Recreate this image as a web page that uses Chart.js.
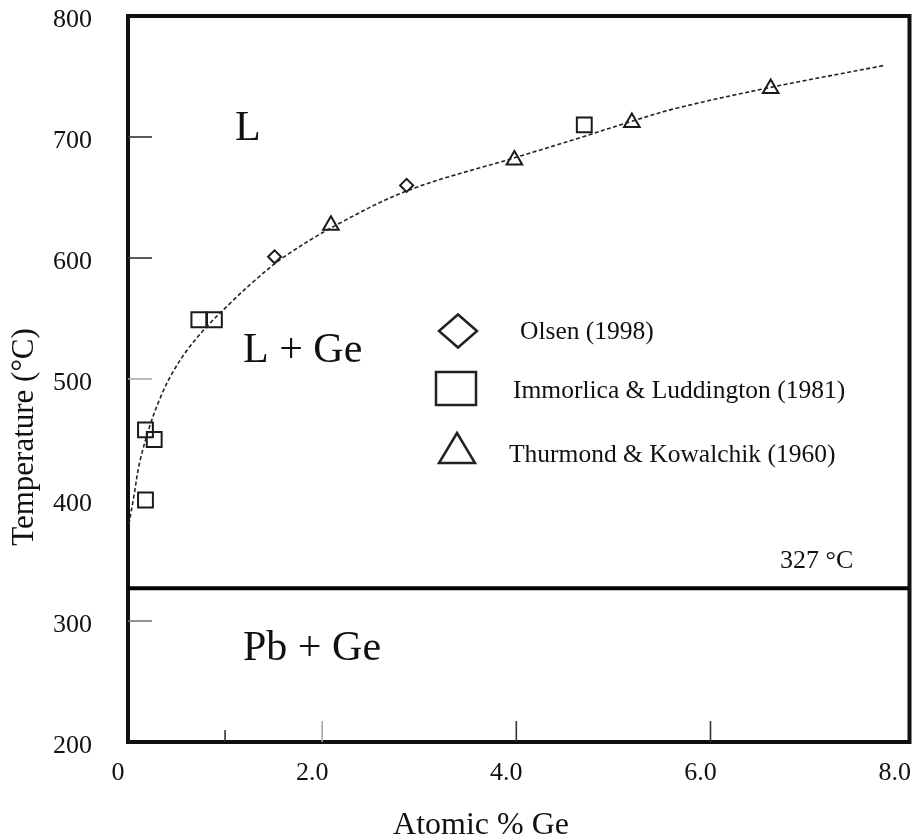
<!DOCTYPE html>
<html>
<head>
<meta charset="utf-8">
<script src="https://cdn.jsdelivr.net/npm/chart.js@4.4.1/dist/chart.umd.min.js"></script>
<style>
  html, body { margin: 0; padding: 0; background: #fff; }
  canvas { display: block; }
</style>
</head>
<body>
<canvas id="c" width="922" height="836"></canvas>
<script>
// Pb-rich side of the Pb–Ge phase diagram: liquidus curve and measured points
const curveGe   = [0.01, 0.06, 0.12, 0.22, 0.33, 0.45, 0.61, 0.82, 1.07, 1.30, 1.59, 2.14, 2.89, 3.99, 4.64, 5.19, 5.66, 6.62, 7.78];
const curveTemp = [380, 403, 431, 460, 484, 504, 524, 544, 564, 581, 600, 627, 656, 683, 699, 713, 724, 741, 759];

const olsenGe   = [1.51, 2.87];
const olsenTemp = [601, 660];

const immorlicaGe   = [0.18, 0.18, 0.27, 0.73, 0.89, 4.70];
const immorlicaTemp = [400, 458, 450, 549, 549, 710];

const thurmondGe   = [2.09, 3.98, 5.19, 6.62];
const thurmondTemp = [627, 681, 712, 740];

const eutecticTemp = 327;

const xTickValues = [0, 2, 4, 6, 8];
const xTickLabels = ['0', '2.0', '4.0', '6.0', '8.0'];
const yTickValues = [200, 300, 400, 500, 600, 700, 800];
const xMarkValues = [1, 2, 4, 6];
const yMarkValues = [300, 500, 600, 700];

const seriesNames  = ['Olsen (1998)', 'Immorlica & Luddington (1981)', 'Thurmond & Kowalchik (1960)'];
const regionLabels = ['L', 'L + Ge', 'Pb + Ge'];
const eutecticLabel = '327 °C';
const xTitle = 'Atomic % Ge';
const yTitle = 'Temperature (°C)';

const SERIF = '"Liberation Serif", "Times New Roman", Times, serif';
const INK = '#111';

const toPoints = (xs, ys) => xs.map((v, i) => ({ x: v, y: ys[i] }));

// Frame, inward ticks, phase-field labels, legend and axis titles
const decor = {
  id: 'decor',
  afterDatasetsDraw(chart) {
    const { ctx, chartArea: a, scales: { x, y } } = chart;
    ctx.save();

    // top and right edges of the frame
    ctx.strokeStyle = INK;
    ctx.lineWidth = 4;
    ctx.beginPath();
    ctx.moveTo(a.left - 2, a.top);
    ctx.lineTo(a.right, a.top);
    ctx.lineTo(a.right, a.bottom + 2);
    ctx.stroke();

    // short tick marks pointing into the plot
    ctx.lineWidth = 1.6;
    yMarkValues.forEach(v => {
      const py = y.getPixelForValue(v);
      ctx.strokeStyle = v === 500 ? '#aaa' : (v === 300 ? '#777' : '#333');
      ctx.beginPath();
      ctx.moveTo(a.left, py);
      ctx.lineTo(a.left + 24, py);
      ctx.stroke();
    });
    xMarkValues.forEach(v => {
      const px = x.getPixelForValue(v);
      ctx.strokeStyle = v === 2 ? '#aaa' : '#333';
      const len = v === 1 ? 12 : 21;
      ctx.beginPath();
      ctx.moveTo(px, a.bottom);
      ctx.lineTo(px, a.bottom - len);
      ctx.stroke();
    });

    ctx.fillStyle = INK;
    ctx.textBaseline = 'alphabetic';
    ctx.textAlign = 'left';

    // phase-field labels
    ctx.font = `42px ${SERIF}`;
    ctx.fillText(regionLabels[0], 235, 140);
    ctx.fillText(regionLabels[1], 243, 362);
    ctx.fillText(regionLabels[2], 243, 660);

    ctx.font = `26px ${SERIF}`;
    ctx.fillText(eutecticLabel, 780, 568);

    // legend
    ctx.strokeStyle = '#222';
    ctx.lineWidth = 2.5;
    ctx.lineJoin = 'miter';
    ctx.beginPath();
    ctx.moveTo(439, 331); ctx.lineTo(458, 314.5); ctx.lineTo(477, 331); ctx.lineTo(458, 347.5);
    ctx.closePath();
    ctx.stroke();

    ctx.strokeRect(436, 372, 40, 33);

    ctx.beginPath();
    ctx.moveTo(457, 433); ctx.lineTo(475, 463); ctx.lineTo(439, 463);
    ctx.closePath();
    ctx.stroke();

    ctx.font = `25.5px ${SERIF}`;
    ctx.fillText(seriesNames[0], 520, 339);
    ctx.fillText(seriesNames[1], 513, 398);
    ctx.fillText(seriesNames[2], 509, 462);

    // axis titles
    ctx.font = `32px ${SERIF}`;
    ctx.textAlign = 'center';
    ctx.fillText(xTitle, 481, 834);

    ctx.save();
    ctx.translate(33, 437);
    ctx.rotate(-Math.PI / 2);
    ctx.font = `31px ${SERIF}`;
    ctx.fillText(yTitle, 0, 0);
    ctx.restore();

    ctx.restore();
  }
};

const markerStyle = {
  type: 'scatter',
  showLine: false,
  borderColor: '#1a1a1a',
  backgroundColor: 'rgba(0,0,0,0)',
  pointBorderWidth: 2,
  pointHoverRadius: 0
};

new Chart(document.getElementById('c'), {
  type: 'scatter',
  data: {
    datasets: [
      {
        label: 'liquidus',
        type: 'line',
        data: toPoints(curveGe, curveTemp),
        borderColor: '#222',
        borderWidth: 1.6,
        borderDash: [4, 2.5],
        pointRadius: 0,
        tension: 0.35,
        fill: false
      },
      {
        label: 'eutectic',
        type: 'line',
        data: [{ x: 0, y: eutecticTemp }, { x: 8.05, y: eutecticTemp }],
        borderColor: '#000',
        borderWidth: 4,
        pointRadius: 0,
        fill: false
      },
      Object.assign({}, markerStyle, {
        label: seriesNames[0],
        data: toPoints(olsenGe, olsenTemp),
        pointStyle: 'rectRot',
        pointRadius: 6.5
      }),
      Object.assign({}, markerStyle, {
        label: seriesNames[1],
        data: toPoints(immorlicaGe, immorlicaTemp),
        pointStyle: 'rect',
        pointRadius: 10.5
      }),
      Object.assign({}, markerStyle, {
        label: seriesNames[2],
        data: toPoints(thurmondGe, thurmondTemp),
        pointStyle: 'triangle',
        pointRadius: 9
      })
    ]
  },
  options: {
    responsive: false,
    animation: false,
    events: [],
    layout: { padding: { left: 0, top: 16, right: 9, bottom: 0 } },
    plugins: { legend: { display: false }, tooltip: { enabled: false } },
    scales: {
      x: {
        type: 'linear',
        min: 0,
        max: 8.05,
        afterBuildTicks: s => { s.ticks = xTickValues.map(v => ({ value: v })); },
        afterFit: s => { s.height = 94; s.paddingLeft = 0; s.paddingRight = 0; },
        grid: { display: false, drawTicks: false },
        border: { display: true, color: INK, width: 4 },
        ticks: {
          padding: 16,
          labelOffset: -10,
          autoSkip: false,
          maxRotation: 0,
          color: INK,
          font: { family: SERIF, size: 26 },
          callback: (v, i) => xTickLabels[i]
        }
      },
      y: {
        type: 'linear',
        min: 200,
        max: 800,
        afterBuildTicks: s => { s.ticks = yTickValues.map(v => ({ value: v })); },
        afterFit: s => { s.width = 128; s.paddingTop = 0; s.paddingBottom = 0; },
        grid: { display: false, drawTicks: false },
        border: { display: true, color: INK, width: 4 },
        ticks: {
          padding: 36,
          labelOffset: 4,
          autoSkip: false,
          color: INK,
          font: { family: SERIF, size: 26 },
          callback: v => String(v)
        }
      }
    }
  },
  plugins: [decor]
});
</script>
</body>
</html>
